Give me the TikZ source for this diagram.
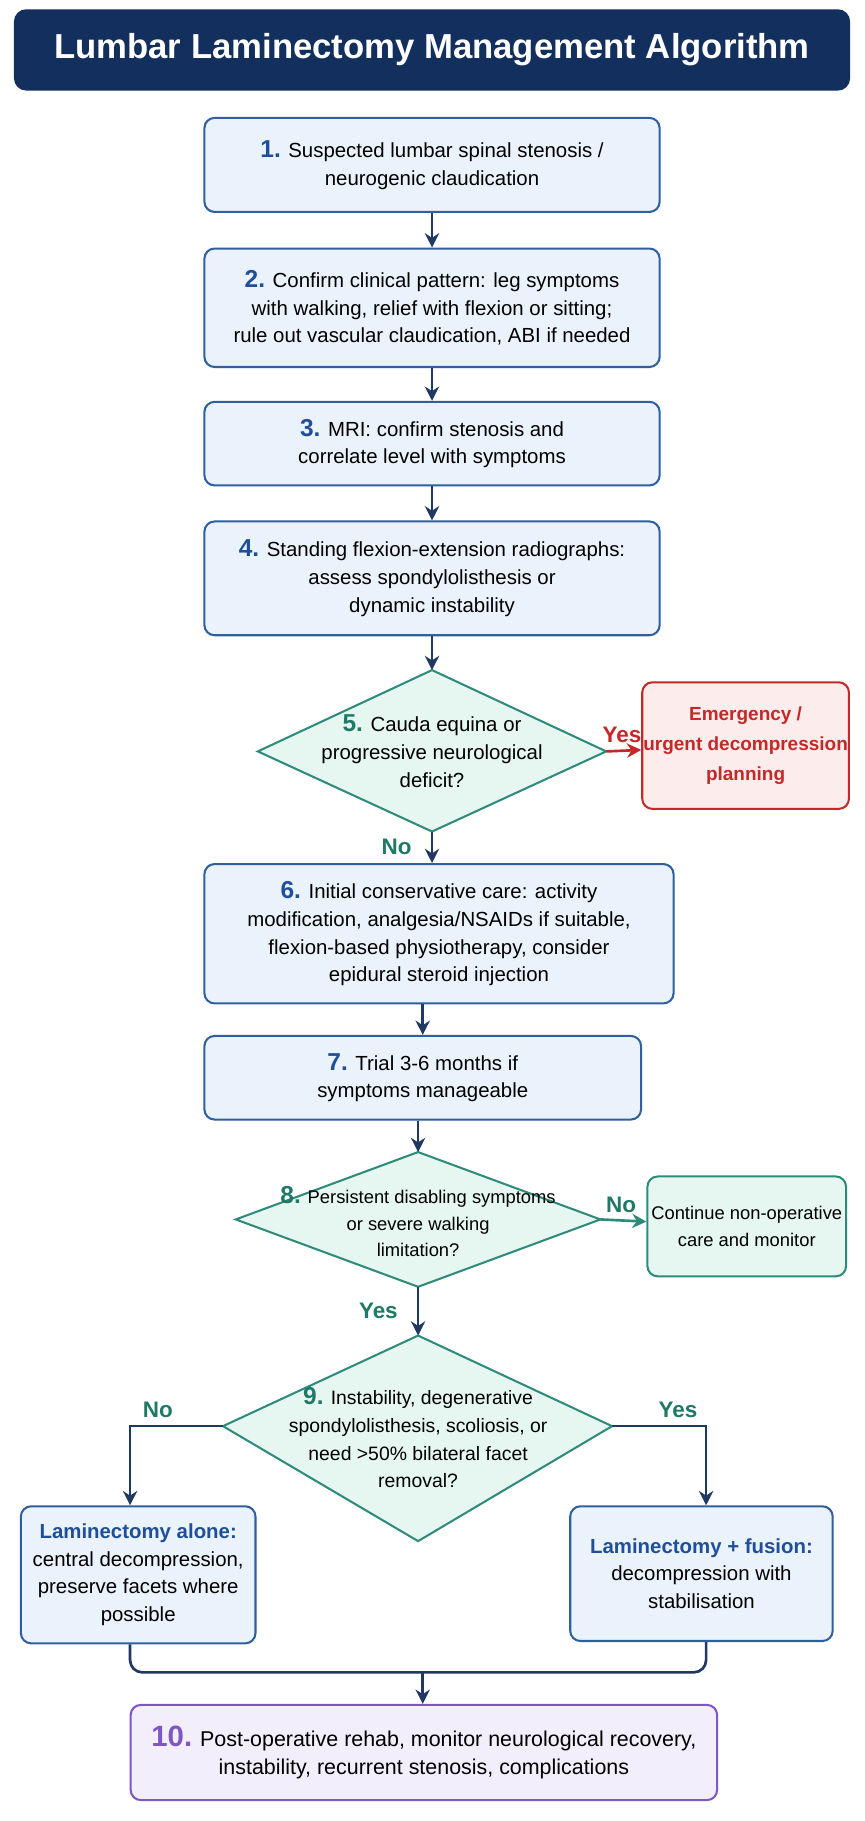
\documentclass[tikz,border=0pt]{standalone}
\usepackage{fontspec}
\setmainfont{Liberation Sans}
\usetikzlibrary{shapes.geometric,arrows.meta}
\definecolor{navy}{HTML}{132F5E}
\definecolor{bfill}{HTML}{EAF3FC}
\definecolor{bdraw}{HTML}{2F5F9E}
\definecolor{bnum}{HTML}{1F4E9A}
\definecolor{tfill}{HTML}{E6F6F1}
\definecolor{tdraw}{HTML}{2E8B7A}
\definecolor{tnum}{HTML}{1E7A66}
\definecolor{rdraw}{HTML}{C62828}
\definecolor{rfill}{HTML}{FDECEC}
\definecolor{pdraw}{HTML}{7E57C2}
\definecolor{pfill}{HTML}{F3EEFB}
\definecolor{arr}{HTML}{1F3864}
\begin{document}
\begin{tikzpicture}[x=0.02cm,y=-0.02cm,
  txt/.style={font=\fontsize{10}{13.6}\selectfont, align=center, text=black},
  bbox/.style={txt,draw=bdraw,fill=bfill,rounded corners=5pt,line width=1pt,inner sep=0pt},
  con/.style={draw=arr,line width=1.3pt,-{Stealth[length=7pt,width=7pt]}},
  ln/.style={draw=arr,line width=1.3pt},
  lab/.style={font=\fontsize{11}{13}\selectfont\bfseries}]
\useasboundingbox (0,0) rectangle (744,1568);
\fill[white] (0,0) rectangle (744,1568);
\node[fill=navy,rounded corners=6pt,minimum width=720*0.02cm,minimum height=70*0.02cm,text=white,font=\fontsize{17}{20}\selectfont\bfseries] (title) at (372,43) {Lumbar Laminectomy Management Algorithm};
\node[bbox,minimum width=392*0.02cm,minimum height=81*0.02cm] (b1) at (372,142) {{\color{bnum}\bfseries\large 1.} Suspected lumbar spinal stenosis /\\neurogenic claudication};
\node[bbox,minimum width=392*0.02cm,minimum height=102*0.02cm] (b2) at (372,265) {{\color{bnum}\bfseries\large 2.} Confirm clinical pattern: leg symptoms\\with walking, relief with flexion or sitting;\\rule out vascular claudication, ABI if needed};
\node[bbox,minimum width=392*0.02cm,minimum height=72*0.02cm] (b3) at (372,382) {{\color{bnum}\bfseries\large 3.} MRI: confirm stenosis and\\correlate level with symptoms};
\node[bbox,minimum width=392*0.02cm,minimum height=98*0.02cm] (b4) at (372,498) {{\color{bnum}\bfseries\large 4.} Standing flexion-extension radiographs:\\assess spondylolisthesis or\\dynamic instability};
\draw[draw=tdraw,fill=tfill,line width=1pt] (222,647) -- (372,577) -- (522,647) -- (372,716) -- cycle;
\node[txt] (d5) at (372,647) {{\color{tnum}\bfseries\large 5.} Cauda equina or\\progressive neurological\\deficit?};
\coordinate (d5r) at (522,647); \coordinate (d5t) at (372,577); \coordinate (d5b) at (372,716);
\node[txt,draw=rdraw,fill=rfill,rounded corners=5pt,line width=1pt,inner sep=0pt,minimum width=178*0.02cm,minimum height=109*0.02cm,text=rdraw,font=\fontsize{9.3}{14.5}\selectfont\bfseries] (em) at (642,642) {Emergency /\\urgent decompression\\planning};
\node[bbox,minimum width=404*0.02cm,minimum height=120*0.02cm] (b6) at (378,804) {{\color{bnum}\bfseries\large 6.} Initial conservative care: activity\\modification, analgesia/NSAIDs if suitable,\\flexion-based physiotherapy, consider\\epidural steroid injection};
\node[bbox,minimum width=376*0.02cm,minimum height=72*0.02cm] (b7) at (364,928) {{\color{bnum}\bfseries\large 7.} Trial 3-6 months if\\symptoms manageable};
\draw[draw=tdraw,fill=tfill,line width=1pt] (203,1050) -- (360,992) -- (517,1050) -- (360,1108) -- cycle;
\coordinate (d8r) at (517,1050); \coordinate (d8t) at (360,992); \coordinate (d8b) at (360,1108);
\node[txt,font=\fontsize{9}{13}\selectfont] (d8) at (360,1052) {{\color{tnum}\bfseries\large 8.} Persistent disabling symptoms\\or severe walking\\limitation?};
\node[txt,draw=tdraw,fill=tfill,rounded corners=5pt,line width=1pt,inner sep=0pt,minimum width=171*0.02cm,minimum height=86*0.02cm,font=\fontsize{9}{13.6}\selectfont] (cont) at (643,1056) {Continue non-operative\\care and monitor};
\draw[draw=tdraw,fill=tfill,line width=1pt] (192,1228) -- (360,1150) -- (527,1228) -- (360,1327) -- cycle;
\coordinate (d9l) at (192,1228); \coordinate (d9r) at (527,1228); \coordinate (d9t) at (360,1150); \coordinate (d9b) at (360,1327);
\node[txt,font=\fontsize{9.5}{13.6}\selectfont] (d9) at (360,1238) {{\color{tnum}\bfseries\large 9.} Instability, degenerative\\spondylolisthesis, scoliosis, or\\need >50\% bilateral facet\\removal?};
\node[bbox,minimum width=202*0.02cm,minimum height=118*0.02cm] (la) at (119,1356) {{\color{bnum}\bfseries Laminectomy alone:}\\central decompression,\\preserve facets where\\possible};
\node[bbox,minimum width=226*0.02cm,minimum height=116*0.02cm] (lf) at (604,1355) {{\color{bnum}\bfseries Laminectomy + fusion:}\\decompression with\\stabilisation};
\node[txt,draw=pdraw,fill=pfill,rounded corners=5pt,line width=1pt,inner sep=0pt,minimum width=505*0.02cm,minimum height=82*0.02cm,font=\fontsize{10.5}{14}\selectfont] (b10) at (365,1509) {{\color{pdraw}\bfseries\Large 10.} Post-operative rehab, monitor neurological recovery,\\instability, recurrent stenosis, complications};
\draw[con] (b1) -- (b2);
\draw[con] (b2) -- (b3);
\draw[con] (b3) -- (b4);
\draw[con] (b4) -- (d5t);
\draw[con,draw=rdraw] (d5r) -- (em) node[pos=0.45,above,lab,text=rdraw] {Yes};
\draw[con] (d5b) -- (b6.north -| d5b) node[midway,left,lab,text=tnum,xshift=-6pt] {No};
\draw[con] (b6.south -| b7) -- (b7);
\draw[con] (b7.south -| d8t) -- (d8t);
\draw[con,draw=tdraw] (d8r) -- (cont) node[pos=0.45,above,lab,text=tnum] {No};
\draw[con] (d8b) -- (d9t) node[midway,left,lab,text=tnum,xshift=-6pt] {Yes};
\draw[con] (d9l) -| (la.north -| 112,0) node[pos=0.35,above,lab,text=tnum] {No};
\draw[con] (d9r) -| (lf.north -| 608,0) node[pos=0.35,above,lab,text=tnum] {Yes};
\coordinate (ml) at (112,1440); \coordinate (mr) at (608,1440); \coordinate (mm) at (364,1440);
\draw[ln,rounded corners=6pt] (la.south -| ml) -- (ml) -- (mr) -- (lf.south -| mr);
\draw[con] (mm) -- (b10.north -| mm);
\end{tikzpicture}
\end{document}
